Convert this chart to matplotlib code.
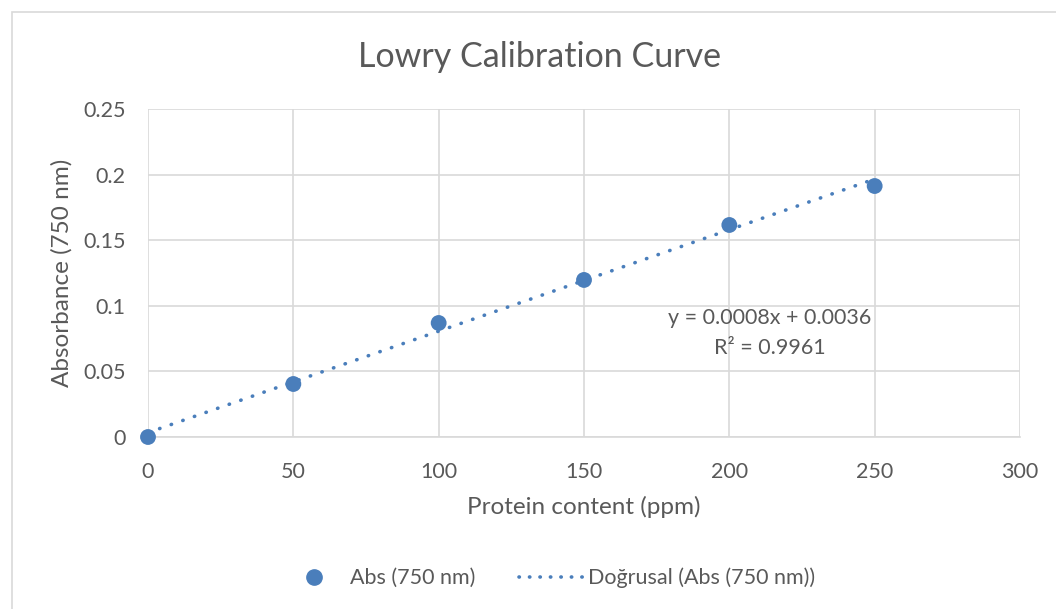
import numpy as np
import matplotlib.pyplot as plt
from matplotlib.patches import Rectangle
from matplotlib.lines import Line2D

plt.rcParams['font.family'] = ['Lato', 'DejaVu Sans']

protein = [0, 50, 100, 150, 200, 250]
absorb = [0.0, 0.0404, 0.0869, 0.1197, 0.1616, 0.1913]
x_ticks = [0, 50, 100, 150, 200, 250, 300]
y_ticks = [0, 0.05, 0.1, 0.15, 0.2, 0.25]
y_labels = ["0", "0.05", "0.1", "0.15", "0.2", "0.25"]

blue = "#4a7ebb"
gray = "#595959"

fig = plt.figure(figsize=(10.56, 6.09), dpi=100)
W, H = 1056, 609

# chart area frame
fig.patches.append(Rectangle((12 / W, -0.1), 1.2, (609 - 12) / H + 0.1, transform=fig.transFigure,
                             fill=False, edgecolor="#d9d9d9", lw=1.2))

ax = fig.add_axes([148 / W, (609 - 437) / H, (1020 - 148) / W, (437 - 109) / H])

# trendline
k, b = np.polyfit(protein, absorb, 1)
xs = np.array([protein[0], protein[-1]])
ax.plot(xs, k * xs + b, linestyle=(0, (0.1, 3.3)), color=blue, lw=2.6, dash_capstyle="round", zorder=3)
ax.scatter(protein, absorb, s=130, color=blue, zorder=4, edgecolors="none", clip_on=False)

ax.set_xlim(0, 300)
ax.set_ylim(0, 0.25)
ax.set_xticks(x_ticks)
ax.set_yticks(y_ticks)
ax.set_yticklabels(y_labels)
ax.grid(True, color="#d9d9d9", lw=1.2)
ax.set_axisbelow(True)
for s in ["top", "right", "left"]:
    ax.spines[s].set_visible(False)
ax.spines["bottom"].set_color("#d9d9d9")
ax.spines["bottom"].set_linewidth(1.2)
ax.tick_params(length=0, labelsize=15.5, colors=gray, pad=16)
ax.tick_params(axis="x", pad=18)

ax.set_xlabel("Protein content (ppm)", fontsize=17.5, color=gray, labelpad=10)
ax.set_ylabel("Absorbance (750 nm)", fontsize=17.5, color=gray, labelpad=8)
fig.text(540 / W, 1 - 57 / H, "Lowry Calibration Curve", ha="center", va="center", fontsize=24.5, color=gray)

ax.text(214, 0.0905, "y = 0.0008x + 0.0036", ha="center", va="center", fontsize=15.5, color=gray)
ax.text(214, 0.0675, "R² = 0.9961", ha="center", va="center", fontsize=15.5, color=gray)

handles = [Line2D([], [], marker="o", ls="none", color=blue, markersize=11),
           Line2D([], [], ls=(0, (0.1, 2.8)), color=blue, lw=2.6, dash_capstyle="round")]
fig.legend(handles, ["Abs (750 nm)", "Doğrusal (Abs (750 nm))"], loc="center",
           bbox_to_anchor=(548 / W, 1 - 578 / H), ncol=2, frameon=False, fontsize=15.5,
           labelcolor=gray, handlelength=3.0, columnspacing=2.0, handletextpad=0.2)

fig.savefig("out.png", dpi=100)
